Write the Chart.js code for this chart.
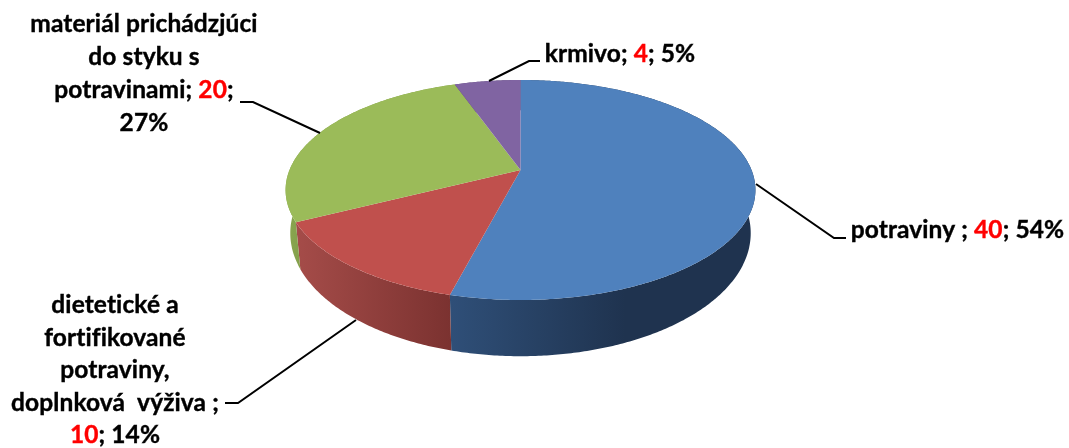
<!DOCTYPE html>
<html>
<head>
<meta charset="utf-8">
<title>Pie</title>
<script src="https://cdn.jsdelivr.net/npm/chart.js@4"></script>
<style>
  html, body { margin:0; padding:0; background:#fff; }
  canvas { display:block; }
</style>
</head>
<body>
<canvas id="pieChart" width="1069" height="448"></canvas>
<script>
const categories = ['potraviny', 'dietetické a fortifikované potraviny, doplnková výživa', 'materiál prichádzjúci do styku s potravinami', 'krmivo'];
const values     = [40, 10, 20, 4];
const percents   = ['54%', '14%', '27%', '5%'];
const topColors  = ['#4f81bd', '#c0504d', '#9bbb59', '#8064a2'];
const wallFrom   = ['#2f4f78', '#a54c49', '#8aa84f', '#6a5387'];
const wallTo     = ['#1f334f', '#7b3230', '#84a04c', '#5c4776'];

// wrapped label text, {v} marks the value printed in red
const labelLines = [
  ['potraviny ; {v}; {p}'],
  ['dietetické a', 'fortifikované', 'potraviny,', 'doplnková  výživa ;', '{v}; {p}'],
  ['materiál prichádzjúci', 'do styku s', 'potravinami; {v};', '{p}'],
  ['krmivo; {v}; {p}'],
];

// label placement: centre x, first baseline, line step
const labelPos = [
  { x:957.5, y:238, step:0 },
  { x:115, y:313, step:32.5 },
  { x:144, y:32, step:33 },
  { x:620, y:62, step:0 },
];
const leaders = [
  [[756,184],[834,238],[846,238]],
  [[356,320],[238,403],[225,403]],
  [[320,133],[253,102],[240,102]],
  [[489,81],[529,61],[540,61]],
];

// perspective of the tilted disc
const CX = 520.5, CY = 170, RX = 231, TILT = -0.1818, RY = 75.45;

function topPoint(a) {
  const u = Math.cos(a), v = Math.sin(a), w = 1 + TILT * v;
  return [CX + RX * u / w, (RY * v + CY) / w];
}

function bottomPoint(a) {
  const p = topPoint(a);
  return [CX + (p[0] - CX) * 0.98, p[1] + 47 + 0.118 * (p[1] - 222)];
}

function rim(fn, a0, a1) {
  const pts = [], n = Math.max(2, Math.ceil(Math.abs(a1 - a0) / 0.01));
  for (let i = 0; i <= n; i++) pts.push(fn(a0 + (a1 - a0) * i / n));
  return pts;
}

function drawWall(ctx, arc, i) {
  const top = rim(topPoint, arc.startAngle, arc.endAngle);
  const bot = rim(bottomPoint, arc.startAngle, arc.endAngle).reverse();
  // blue runs dark from the middle of the front, the others across their own width
  const x0 = i === 0 ? 450 : i === 1 ? 296 : 285;
  const x1 = i === 0 ? 625 : i === 1 ? 451 : 300;
  const g = ctx.createLinearGradient(x0, 0, x1, 0);
  g.addColorStop(0, wallFrom[i]);
  g.addColorStop(1, wallTo[i]);
  ctx.beginPath();
  top.concat(bot).forEach((p, k) => k ? ctx.lineTo(p[0], p[1]) : ctx.moveTo(p[0], p[1]));
  ctx.closePath();
  ctx.fillStyle = g;
  ctx.fill();
}

function drawTop(ctx, arc, i) {
  ctx.beginPath();
  ctx.moveTo(CX, CY);
  rim(topPoint, arc.startAngle, arc.endAngle).forEach(p => ctx.lineTo(p[0], p[1]));
  ctx.closePath();
  ctx.fillStyle = topColors[i];
  ctx.fill();
}

function putText(ctx, text, x, y, color) {
  ctx.fillStyle = color;
  ctx.strokeStyle = color;
  ctx.fillText(text, x, y);
  ctx.strokeText(text, x, y);
  return x + ctx.measureText(text).width;
}

function drawLabel(ctx, i) {
  const pos = labelPos[i];
  ctx.font = 'bold 24.5px Lato';
  ctx.letterSpacing = '0.1px'; // keeps "fi" from turning into a ligature
  ctx.lineWidth = 0.4;
  ctx.textAlign = 'left';
  ctx.textBaseline = 'alphabetic';
  labelLines[i].forEach((line, n) => {
    const parts = line.replace('{p}', percents[i]).split('{v}');
    const val = String(values[i]);
    let x = pos.x - ctx.measureText(parts.join(val)).width / 2;
    const y = pos.y + n * pos.step;
    parts.forEach((part, k) => {
      if (k) x = putText(ctx, val, x, y, '#ff0000');
      x = putText(ctx, part, x, y, '#000000');
    });
  });
}

const tiltedPie = {
  id: 'tiltedPie',
  beforeDatasetsDraw(chart) {
    const ctx = chart.ctx;
    const arcs = chart.getDatasetMeta(0).data;
    ctx.save();
    arcs.forEach((arc, i) => drawWall(ctx, arc, i));
    arcs.forEach((arc, i) => drawTop(ctx, arc, i));
    ctx.strokeStyle = '#000';
    ctx.lineWidth = 2;
    leaders.forEach(l => {
      ctx.beginPath();
      l.forEach((p, k) => k ? ctx.lineTo(p[0], p[1]) : ctx.moveTo(p[0], p[1]));
      ctx.stroke();
    });
    categories.forEach((c, i) => drawLabel(ctx, i));
    ctx.restore();
    return false;
  }
};

new Chart(document.getElementById('pieChart'), {
  type: 'pie',
  data: { labels: categories, datasets: [{ data: values, backgroundColor: topColors, borderWidth: 0 }] },
  options: {
    responsive: false,
    animation: false,
    plugins: { legend: { display:false }, tooltip: { enabled:false } }
  },
  plugins: [tiltedPie]
});
</script>
</body>
</html>
